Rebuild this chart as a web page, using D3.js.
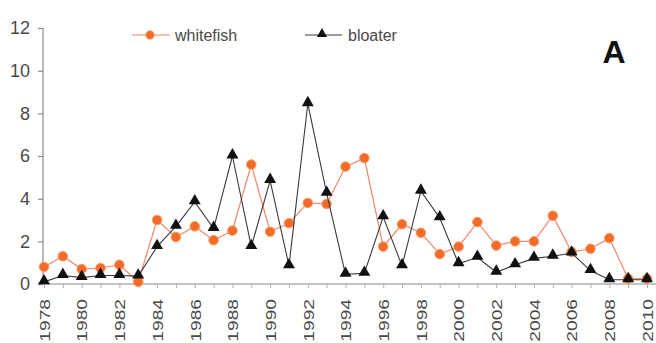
<!DOCTYPE html>
<html>
<head>
<meta charset="utf-8">
<script src="https://cdn.jsdelivr.net/npm/d3@7"></script>
<style>
  html, body { margin: 0; padding: 0; background: #fff; }
  svg { display: block; font-family: "Liberation Sans", Arial, sans-serif; }
</style>
</head>
<body>
<svg id="chart" width="656" height="343"></svg>
<script>
// Annual values, 1978–2010
const years = d3.range(1978, 2011);
const whitefish = [0.8, 1.3, 0.7, 0.75, 0.9, 0.1, 3.0, 2.2, 2.7, 2.05, 2.5, 5.6, 2.45, 2.85,
  3.8, 3.75, 5.5, 5.9, 1.75, 2.8, 2.4, 1.4, 1.75, 2.9, 1.8, 2.0, 2.0, 3.2, 1.5, 1.65, 2.15, 0.25, 0.25];
const bloater = [0.1, 0.4, 0.3, 0.4, 0.4, 0.37, 1.75, 2.7, 3.85, 2.6, 6.0, 1.75, 4.85, 0.85,
  8.45, 4.25, 0.45, 0.5, 3.15, 0.85, 4.35, 3.1, 0.95, 1.25, 0.55, 0.9, 1.2, 1.3, 1.45, 0.63, 0.2, 0.2, 0.2];
const yTicks = [0, 2, 4, 6, 8, 10, 12];

const svg = d3.select("#chart");
const x = d3.scaleLinear().domain([1978, 2010]).range([44, 647]);
const y = d3.scaleLinear().domain([0, 12]).range([284, 28]);

const axisColor = "#8a8a8a";
const textColor = "#4a4a4a";

// y axis
const yAxis = svg.append("g")
  .attr("transform", "translate(43,0)")
  .call(d3.axisLeft(y).tickValues(yTicks).tickSize(5).tickPadding(8).tickFormat(d3.format("d")));
yAxis.select(".domain").attr("stroke", axisColor).attr("stroke-width", 1.2).attr("d", "M0,28V284");
yAxis.selectAll(".tick line").attr("stroke", axisColor).attr("stroke-width", 1.2);
yAxis.selectAll(".tick text").attr("fill", textColor).style("font-size", "18px");

// x axis: a tick every year, labels on even years (tall, narrow rotated digits)
const xAxis = svg.append("g")
  .attr("transform", `translate(0,${y(0)})`)
  .call(d3.axisBottom(x).tickValues(years).tickSize(4)
    .tickFormat(d => (d % 2 === 0 ? String(d) : "")));
xAxis.select(".domain").attr("stroke", axisColor).attr("stroke-width", 1.2).attr("d", `M43,0H656`);
xAxis.selectAll(".tick line").attr("stroke", "#b0b0b0").attr("stroke-width", 1);
xAxis.selectAll(".tick text")
  .attr("fill", textColor)
  .style("font-size", "15px")
  .attr("text-anchor", "end")
  .attr("dy", "0.35em")
  .attr("transform", "translate(0,15) rotate(-90) scale(1.28,1)")
  .attr("x", 0).attr("y", 0);

const line = d3.line().x((d, i) => x(years[i])).y(d => y(d));

// whitefish series
const orange = "#f26b2b";
svg.append("path").datum(whitefish)
  .attr("d", line).attr("fill", "none")
  .attr("stroke", "#f0876a").attr("stroke-width", 1.2);
svg.append("g").selectAll("circle").data(whitefish).join("circle")
  .attr("cx", (d, i) => x(years[i])).attr("cy", d => y(d))
  .attr("r", 4.8).attr("fill", orange).attr("stroke", "#f7a060").attr("stroke-width", 1);

// bloater series
const tri = d3.symbol().type(d3.symbolTriangle).size(62);
svg.append("path").datum(bloater)
  .attr("d", line).attr("fill", "none")
  .attr("stroke", "#3a3a3a").attr("stroke-width", 1.1);
svg.append("g").selectAll("path").data(bloater).join("path")
  .attr("d", tri)
  .attr("transform", (d, i) => `translate(${x(years[i])},${y(d) - 1})`)
  .attr("fill", "#111");

// legend
const leg = svg.append("g");
leg.append("line").attr("x1", 132).attr("x2", 170).attr("y1", 35).attr("y2", 35)
  .attr("stroke", "#f0876a").attr("stroke-width", 1.2);
leg.append("circle").attr("cx", 150).attr("cy", 35).attr("r", 4.2)
  .attr("fill", orange).attr("stroke", "#f7a060");
leg.append("text").attr("x", 175).attr("y", 35).attr("dy", "0.35em")
  .attr("fill", textColor).style("font-size", "16px").text("whitefish");
leg.append("line").attr("x1", 305).attr("x2", 342).attr("y1", 35).attr("y2", 35)
  .attr("stroke", "#3a3a3a").attr("stroke-width", 1.1);
leg.append("path").attr("d", d3.symbol().type(d3.symbolTriangle).size(45))
  .attr("transform", "translate(322,34)").attr("fill", "#111");
leg.append("text").attr("x", 348).attr("y", 35).attr("dy", "0.35em")
  .attr("fill", textColor).style("font-size", "16px").text("bloater");

// panel letter
svg.append("text").attr("x", 614).attr("y", 63).attr("text-anchor", "middle")
  .attr("fill", "#111").style("font-size", "32px").style("font-weight", "bold").text("A");
</script>
</body>
</html>
